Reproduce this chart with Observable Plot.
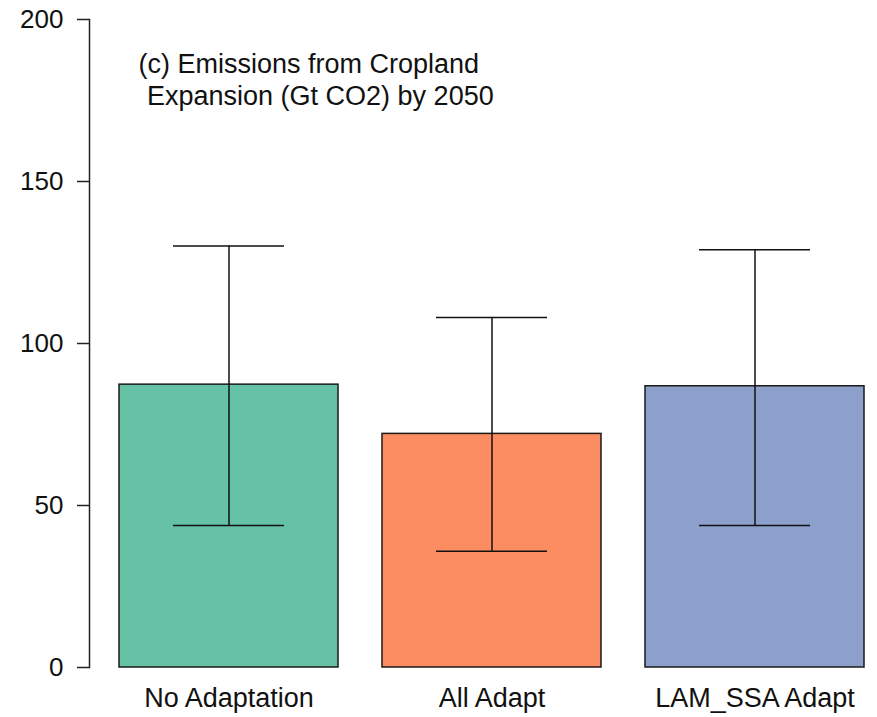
<!DOCTYPE html>
<html>
<head>
<meta charset="utf-8">
<script src="https://cdn.jsdelivr.net/npm/d3@7"></script>
<script src="https://cdn.jsdelivr.net/npm/@observablehq/plot@0.6"></script>
<style>
  html, body { margin: 0; padding: 0; background: #fff; }
  #chart svg { display: block; }
</style>
</head>
<body>
<div id="chart"></div>
<script>
// Cropland-expansion emissions by 2050 (Gt CO2), mean with range
const scenarios = ["No Adaptation", "All Adapt", "LAM_SSA Adapt"];
const emissions = [87.3, 72.1, 86.8];
const lower = [43.8, 35.9, 43.8];
const upper = [130.1, 108.0, 128.9];
const colors = ["#66C2A5", "#FC8D62", "#8DA0CB"];
const yTicks = [0, 50, 100, 150, 200];
const titleLines = ["(c) Emissions from Cropland", "Expansion (Gt CO2) by 2050"];

const rows = scenarios.map((s, i) => ({
  scenario: s, value: emissions[i], lo: lower[i], hi: upper[i]
}));

const font = "'Liberation Sans', Arial, sans-serif";

const chart = Plot.plot({
  width: 877,
  height: 717,
  marginLeft: 89,
  marginTop: 19,
  marginBottom: 50,
  marginRight: 0,
  style: { fontFamily: font, background: "#fff", color: "#111" },
  x: {
    type: "band",
    domain: scenarios,
    range: [118.5, 865.5],
    paddingInner: 0.2 / 1.2,
    paddingOuter: 0
  },
  y: { domain: [0, 200] },
  color: { domain: scenarios, range: colors },
  marks: [
    Plot.frame({ anchor: "left", stroke: "#222", strokeWidth: 1.5 }),
    Plot.axisY({
      ticks: yTicks,
      tickSize: 12,
      tickPadding: 14,
      fontSize: 26,
      stroke: "#222",
      strokeWidth: 1.5,
      fill: "#111",
      label: null
    }),
    Plot.axisX({
      tickSize: 0,
      tickPadding: 20,
      fontSize: 27,
      fill: "#111",
      label: null
    }),
    Plot.barY(rows, {
      x: "scenario",
      y: "value",
      fill: "scenario",
      stroke: "#1a1a1a",
      strokeWidth: 1.5
    }),
    Plot.ruleX(rows, {
      x: "scenario",
      y1: "lo",
      y2: "hi",
      stroke: "#111",
      strokeWidth: 1.5
    }),
    Plot.tickY(rows, {
      x: "scenario",
      y: "hi",
      insetLeft: 54,
      insetRight: 54,
      stroke: "#111",
      strokeWidth: 1.5
    }),
    Plot.tickY(rows, {
      x: "scenario",
      y: "lo",
      insetLeft: 54,
      insetRight: 54,
      stroke: "#111",
      strokeWidth: 1.5
    }),
    Plot.text([titleLines[0]], {
      text: d => d,
      frameAnchor: "top-left",
      textAnchor: "start",
      lineAnchor: "bottom",
      dx: 49,
      dy: 53,
      fontSize: 27,
      fill: "#111"
    }),
    Plot.text([titleLines[1]], {
      text: d => d,
      frameAnchor: "top-left",
      textAnchor: "start",
      lineAnchor: "bottom",
      dx: 57.5,
      dy: 85,
      fontSize: 27,
      fill: "#111"
    })
  ]
});

document.getElementById("chart").appendChild(chart);
</script>
</body>
</html>
